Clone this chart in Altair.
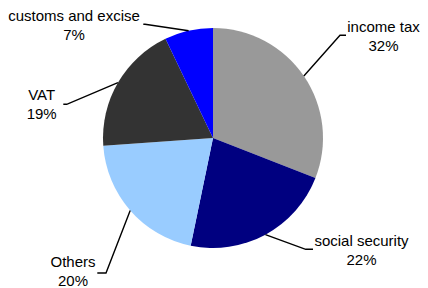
import math
import altair as alt
import pandas as pd

# ---- data ----
categories = ["income tax", "social security", "Others", "VAT", "customs and excise"]
shares = [30.9, 22.3, 20.6, 19.0, 7.1]          # slice sizes (percent of circle)
pct_labels = ["32%", "22%", "20%", "19%", "7%"]  # printed labels
colors = ["#999999", "#000080", "#99CCFF", "#333333", "#0000FF"]

# ---- layout (chart pixels) ----
W, H = 412, 282
CX, CY, R = 205, 130, 110
FONT = "Liberation Sans"
FS = 15
LINE_GAP = 19
# per label: elbow point, line end, text centre (first line)
layout = {
    "income tax":         dict(elbow=(332.0, 27.3), end=(338.0, 27.3), text=(375.5, 19.0)),
    "social security":    dict(elbow=(297.7, 241.3), end=(305.0, 241.3), text=(353.5, 232.7)),
    "Others":             dict(elbow=(98.0, 265.0), end=(89.3, 265.0), text=(65.0, 254.3)),
    "VAT":                dict(elbow=(58.7, 96.3), end=(55.3, 96.3), text=(33.7, 87.0)),
    "customs and excise": dict(elbow=(137.0, 16.3), end=(135.3, 16.3), text=(66.0, 7.7)),
}

pie_df = pd.DataFrame({"cat": categories, "share": shares, "idx": list(range(len(categories)))})

# leader lines: start on the pie edge at each slice's middle angle
total = sum(shares)
rows = []
cum = 0.0
for c, s in zip(categories, shares):
    mid = (cum + s / 2) / total * 2 * math.pi
    cum += s
    sx = CX + R * math.sin(mid)
    sy = CY - R * math.cos(mid)
    L = layout[c]
    rows.append({"cat": c, "i": 0, "x": sx, "y": sy})
    rows.append({"cat": c, "i": 1, "x": L["elbow"][0], "y": L["elbow"][1]})
    rows.append({"cat": c, "i": 2, "x": L["end"][0], "y": L["end"][1]})
line_df = pd.DataFrame(rows)

trows = []
for c, p in zip(categories, pct_labels):
    tx, ty = layout[c]["text"]
    trows.append({"t": c, "x": tx, "y": ty})
    trows.append({"t": p, "x": tx, "y": ty + LINE_GAP})
text_df = pd.DataFrame(trows)

arcs = alt.Chart(pie_df).mark_arc(outerRadius=R, strokeWidth=0).encode(
    theta=alt.Theta("share:Q", stack=True),
    color=alt.Color("cat:N", scale=alt.Scale(domain=categories, range=colors), legend=None),
    order=alt.Order("idx:Q"),
    x=alt.value(CX),
    y=alt.value(CY),
)

lines = alt.Chart(line_df).mark_line(color="black", strokeWidth=1.4).encode(
    x=alt.X("x:Q", scale=None, axis=None),
    y=alt.Y("y:Q", scale=None, axis=None),
    detail="cat:N",
    order="i:Q",
)

texts = alt.Chart(text_df).mark_text(
    font=FONT, fontSize=FS, color="black", align="center", baseline="middle"
).encode(
    x=alt.X("x:Q", scale=None, axis=None),
    y=alt.Y("y:Q", scale=None, axis=None),
    text="t:N",
)

chart = alt.layer(arcs, lines, texts).properties(
    width=W, height=H, autosize=alt.AutoSizeParams(type="none"), padding=0
).configure_view(stroke=None)

chart.save("out.html", embed_options={"renderer": "svg", "actions": False})
